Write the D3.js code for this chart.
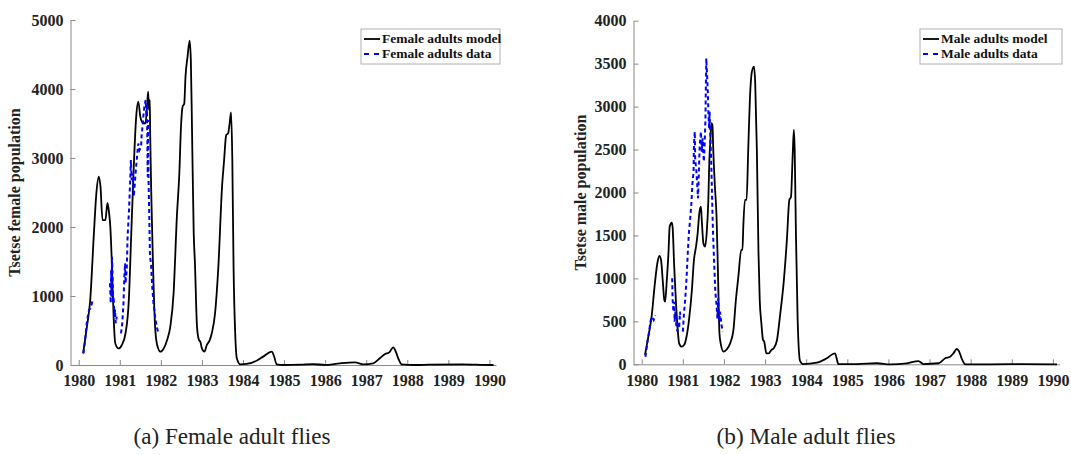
<!DOCTYPE html>
<html>
<head>
<meta charset="utf-8">
<script src="https://cdn.jsdelivr.net/npm/d3@7"></script>
<style>
  body { margin: 0; background: #fff; }
  svg { display: block; }
  .tick text { font-family: "Liberation Serif", serif; font-weight: bold; font-size: 16px; fill: #222; }
  .axis path, .axis line { stroke: #8a8a8a; }
</style>
</head>
<body>
<div id="chart"></div>
<script>
// year ticks shared by both panels
const yearTicks = [1980, 1981, 1982, 1983, 1984, 1985, 1986, 1987, 1988, 1989, 1990];
const femaleTicks = [0, 1000, 2000, 3000, 4000, 5000];
const maleTicks = [0, 500, 1000, 1500, 2000, 2500, 3000, 3500, 4000];

// female model (black line)
const femaleModelYears = [1980.107, 1980.20, 1980.28, 1980.37, 1980.43, 1980.49, 1980.53, 1980.58, 1980.65, 1980.70,
  1980.74, 1980.77, 1980.81, 1980.85, 1980.89, 1980.97, 1981.05, 1981.14, 1981.22, 1981.28,
  1981.34, 1981.40, 1981.45, 1981.50, 1981.54, 1981.62, 1981.66, 1981.69, 1981.71, 1981.73,
  1981.74, 1981.77, 1981.81, 1981.86, 1981.91, 1981.99, 1982.07, 1982.15, 1982.23, 1982.31,
  1982.39, 1982.45, 1982.49, 1982.53, 1982.57, 1982.60, 1982.65, 1982.70, 1982.73, 1982.76,
  1982.80, 1982.83, 1982.88, 1982.93, 1982.96, 1983.00, 1983.06, 1983.12, 1983.19, 1983.24,
  1983.32, 1983.40, 1983.49, 1983.54, 1983.59, 1983.64, 1983.67, 1983.71, 1983.74, 1983.77,
  1983.81, 1983.85, 1983.93, 1984.09, 1984.34, 1984.50, 1984.70, 1984.76, 1984.82, 1984.98,
  1985.40, 1985.71, 1986.00, 1986.36, 1986.73, 1986.93, 1987.17, 1987.33, 1987.46, 1987.56,
  1987.66, 1987.72, 1987.78, 1987.86, 1988.20, 1988.53, 1989.36, 1990.00, 1990.10];
const femaleModelValues = [170, 555, 942, 1910, 2490, 2730, 2585, 2100, 2100, 2350,
  2200, 2000, 1425, 700, 315, 240, 290, 460, 940, 1910,
  2870, 3600, 3815, 3600, 3525, 3500, 3700, 3960, 3700, 3840,
  3360, 2390, 1425, 555, 290, 193, 240, 360, 555, 1040,
  2150, 2780, 3450, 3745, 3790, 4180, 4470, 4700, 4420, 3360,
  1910, 1475, 555, 360, 340, 240, 193, 290, 360, 460,
  750, 1425, 2585, 2970, 3330, 3360, 3480, 3660, 2970, 1425,
  460, 97, 10, 15, 65, 125, 193, 120, 10, 0,
  5, 14, 0, 25, 39, 10, 25, 97, 160, 183,
  256, 193, 97, 10, 0, 5, 10, 0, 0];

// female data (blue dashed), null = no observation
const femaleDataYears = [1980.115, 1980.155, 1980.195, 1980.22, 1980.25, 1980.29, 1980.33, 1980.5,
  1980.76, 1980.78, 1980.79, 1980.80, 1980.81, 1980.83, 1980.84, 1980.85, 1980.87, 1980.885, 1980.90, 1980.925, 1980.97,
  1981.03, 1981.06, 1981.09, 1981.11, 1981.13, 1981.14, 1981.17, 1981.19, 1981.225, 1981.25,
  1981.27, 1981.29, 1981.31, 1981.34, 1981.36, 1981.39, 1981.42, 1981.45, 1981.48, 1981.52,
  1981.53, 1981.56, 1981.58, 1981.60, 1981.63, 1981.65, 1981.66, 1981.67, 1981.68, 1981.69,
  1981.695, 1981.70, 1981.72, 1981.735, 1981.76, 1981.79, 1981.82, 1981.86, 1981.90, 1981.94];
const femaleDataValues = [170, 360, 605, 700, 800, 820, 920, null,
  1185, 895, 1375, 990, 1570, 1135, 895, 990, 700, 800, 605, 700, null,
  460, 605, 895, 1280, 1475, 1185, 1375, 1860, 2245, 2630,
  2970, 2680, 2780, 2440, 2585, 2825, 3020, 3210, 3115, 3165,
  3310, 3500, 3650, 3745, 3840, 3600, 3790, 3310, 2730, 3550,
  3020, 2680, 2100, 1570, 1475, 1135, 895, 700, 555, 460];

// male model (black line)
const maleModelYears = [1980.08, 1980.16, 1980.24, 1980.32, 1980.38, 1980.43, 1980.47, 1980.51, 1980.55, 1980.57,
  1980.61, 1980.65, 1980.68, 1980.73, 1980.75, 1980.79, 1980.83, 1980.87, 1980.91, 1980.97,
  1981.03, 1981.09, 1981.15, 1981.22, 1981.27, 1981.32, 1981.36, 1981.40, 1981.44, 1981.46,
  1981.50, 1981.54, 1981.58, 1981.62, 1981.645, 1981.67, 1981.69, 1981.72, 1981.74, 1981.78,
  1981.82, 1981.86, 1981.89, 1981.92, 1981.99, 1982.07, 1982.15, 1982.23, 1982.29, 1982.35,
  1982.42, 1982.45, 1982.47, 1982.51, 1982.55, 1982.59, 1982.63, 1982.68, 1982.73, 1982.76,
  1982.80, 1982.84, 1982.87, 1982.91, 1982.95, 1982.98, 1983.03, 1983.09, 1983.15, 1983.21,
  1983.29, 1983.37, 1983.45, 1983.53, 1983.59, 1983.63, 1983.67, 1983.70, 1983.72, 1983.75,
  1983.79, 1983.85, 1983.92, 1984.26, 1984.50, 1984.65, 1984.70, 1984.74, 1984.78, 1985.23,
  1985.72, 1986.04, 1986.45, 1986.73, 1986.85, 1987.22, 1987.38, 1987.50, 1987.58, 1987.66,
  1987.72, 1987.78, 1987.87, 1988.47, 1989.28, 1990.10];
const maleModelValues = [108, 321, 554, 943, 1176, 1261, 1214, 981, 749, 729,
  981, 1292, 1602, 1648, 1602, 1136, 749, 438, 244, 205,
  225, 321, 516, 865, 1214, 1369, 1525, 1758, 1835, 1680,
  1409, 1369, 1525, 1913, 2378, 2611, 2806, 2786, 2495, 2068,
  1718, 943, 361, 244, 147, 175, 244, 399, 749, 1020,
  1331, 1331, 1602, 1913, 1913, 2495, 3077, 3407, 3465, 3271,
  2495, 1292, 749, 477, 283, 263, 128, 128, 166, 186,
  283, 594, 943, 1447, 1913, 1951, 2417, 2728, 2495, 1525,
  554, 40, 3, 19, 70, 120, 128, 70, 3, 3,
  12, 0, 12, 38, 3, 12, 70, 89, 128, 178,
  147, 70, 0, 0, 3, 0];

// male data (blue dashed)
const maleDataYears = [1980.09, 1980.14, 1980.18, 1980.21, 1980.25, 1980.29, 1980.33, 1980.5,
  1980.74, 1980.75, 1980.77, 1980.79, 1980.80, 1980.82, 1980.84, 1980.87, 1980.88, 1980.91, 1980.93, 1980.95, 1980.97,
  1981.00, 1981.03, 1981.06, 1981.09, 1981.11, 1981.13, 1981.15, 1981.18, 1981.21, 1981.23,
  1981.26, 1981.27, 1981.29, 1981.30, 1981.33, 1981.35, 1981.37, 1981.39, 1981.41, 1981.44,
  1981.46, 1981.48, 1981.51, 1981.53, 1981.55, 1981.56, 1981.57, 1981.59, 1981.61, 1981.62,
  1981.64, 1981.65, 1981.67, 1981.69, 1981.71, 1981.73, 1981.76, 1981.79, 1981.82, 1981.84,
  1981.86, 1981.88, 1981.905, 1981.94, 1981.97];
const maleDataValues = [88, 263, 380, 496, 554, 516, 574, null,
  1001, 768, 612, 729, 496, 612, 457, 380, 496, 419, 612, 535, null,
  380, 612, 768, 1001, 1195, 1389, 1544, 1700, 1893, 2087,
  2242, 2553, 2708, 2398, 2242, 2087, 1932, 2242, 2553, 2708,
  2475, 2631, 2359, 2553, 2864, 3252, 3562, 3368, 3135, 2941,
  2747, 2941, 2631, 2359, 1971, 1583, 1195, 845, 690, 535,
  768, 496, 612, 457, 380];

const svg = d3.select("#chart").append("svg")
  .attr("width", 1071).attr("height", 455)
  .style("background", "#fff");

function drawPanel (p) {
  let x = d3.scaleLinear().domain([1979.8, 1990.16]).range(p.xRange);
  let y = d3.scaleLinear().domain([0, p.yMax]).range(p.yRange);

  // axes, ticks pointing inward like matlab
  svg.append("g")
    .attr("class", "axis")
    .attr("transform", "translate(0," + p.yRange[0] + ")")
    .call(d3.axisBottom(x).tickValues(yearTicks).tickFormat(d3.format("d")).tickSizeInner(-5).tickSizeOuter(0).tickPadding(10));

  svg.append("g")
    .attr("class", "axis")
    .attr("transform", "translate(" + p.xRange[0] + ",0)")
    .call(d3.axisLeft(y).tickValues(p.yTicks).tickFormat(d3.format("d")).tickSizeInner(-5).tickSizeOuter(0).tickPadding(7));

  svg.append("text")
    .attr("transform", "translate(" + p.labelX + "," + ((p.yRange[0] + p.yRange[1]) / 2) + ") rotate(-90)")
    .attr("text-anchor", "middle")
    .attr("font-family", "Liberation Serif")
    .attr("font-weight", "bold")
    .attr("font-size", 16)
    .attr("fill", "#222")
    .text(p.yLabel);

  // model line
  let model = p.modelYears.map((d, i) => [d, p.modelValues[i]]);
  svg.append("path")
    .datum(model)
    .attr("fill", "none")
    .attr("stroke", "#000")
    .attr("stroke-width", 1.8)
    .attr("d", d3.line()
      .x(d => x(d[0]))
      .y(d => y(d[1]))
      .curve(d3.curveMonotoneX));

  // data line with gaps
  let obs = p.dataYears.map((d, i) => [d, p.dataValues[i]]);
  svg.append("path")
    .datum(obs)
    .attr("fill", "none")
    .attr("stroke", "#0000ff")
    .attr("stroke-width", 2)
    .attr("stroke-dasharray", "4,3")
    .attr("d", d3.line()
      .defined(d => d[1] != null)
      .x(d => x(d[0]))
      .y(d => y(d[1])));

  // legend
  let lg = svg.append("g").attr("transform", "translate(" + p.legendX + ",29)");
  lg.append("rect")
    .attr("width", p.legendW).attr("height", 35)
    .attr("fill", "#fff").attr("stroke", "#b0b0b0").attr("stroke-width", 1);
  lg.append("line").attr("x1", 3).attr("x2", 19).attr("y1", 10).attr("y2", 10)
    .attr("stroke", "#000").attr("stroke-width", 1.8);
  lg.append("line").attr("x1", 3).attr("x2", 19).attr("y1", 25).attr("y2", 25)
    .attr("stroke", "#0000ff").attr("stroke-width", 2).attr("stroke-dasharray", "5,5");
  p.legendText.forEach((t, i) => {
    lg.append("text")
      .attr("x", 21).attr("y", 14 + i * 15)
      .attr("font-family", "Liberation Serif")
      .attr("font-weight", "bold")
      .attr("font-size", 13.5)
      .attr("fill", "#111")
      .text(t);
  });

  svg.append("text")
    .attr("x", p.captionX).attr("y", 444)
    .attr("text-anchor", "middle")
    .attr("font-family", "Liberation Serif")
    .attr("font-size", 24)
    .attr("fill", "#222")
    .attr("textLength", p.captionW)
    .attr("lengthAdjust", "spacingAndGlyphs")
    .text(p.caption);
}

drawPanel({
  xRange: [70.5, 496], yRange: [365, 20], yMax: 5000, yTicks: femaleTicks,
  yLabel: "Tsetse female population", labelX: 20,
  modelYears: femaleModelYears, modelValues: femaleModelValues,
  dataYears: femaleDataYears, dataValues: femaleDataValues,
  legendX: 361, legendW: 139, legendText: ["Female adults model", "Female adults data"],
  caption: "(a) Female adult flies", captionX: 232, captionW: 197
});

drawPanel({
  xRange: [633.5, 1059.5], yRange: [364.3, 20.7], yMax: 4000, yTicks: maleTicks,
  yLabel: "Tsetse male population", labelX: 586,
  modelYears: maleModelYears, modelValues: maleModelValues,
  dataYears: maleDataYears, dataValues: maleDataValues,
  legendX: 920, legendW: 142, legendText: ["Male adults model", "Male adults data"],
  caption: "(b) Male adult flies", captionX: 806, captionW: 179
});
</script>
</body>
</html>
